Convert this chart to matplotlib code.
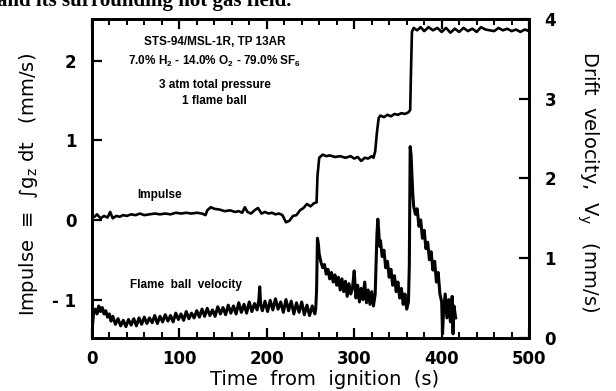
#!/usr/bin/env python3
"""Flame ball impulse and drift velocity, STS-94/MSL-1R test point 13AR."""

import matplotlib
matplotlib.use("Agg")
import matplotlib.pyplot as plt
from matplotlib.ticker import MultipleLocator

plt.rcParams['font.family'] = ['Liberation Sans', 'DejaVu Sans']
plt.rcParams['mathtext.fontset'] = 'custom'
plt.rcParams['mathtext.rm'] = 'Liberation Sans'
plt.rcParams['mathtext.it'] = 'Liberation Sans'
plt.rcParams['mathtext.bf'] = 'Liberation Sans:bold'
plt.rcParams['mathtext.default'] = 'regular'

# ============================================================================
# DATA
# ============================================================================

# Impulse = integral of g_z dt (mm/s), left axis
imp_t = [0, 3, 6, 10, 14, 18, 21, 24, 28, 32,
         36, 40, 45, 50, 55, 60, 66, 72, 78, 84,
         90, 96, 102, 108, 114, 120, 126, 130, 132, 136,
         140, 146, 152, 158, 164, 168, 172, 175, 178, 182,
         186, 190, 194, 198, 202, 206, 210, 214, 218, 222,
         226, 230, 234, 238, 242, 246, 250, 254, 257, 258,
         260, 264, 268, 272, 278, 284, 290, 296, 300, 304,
         308, 312, 316, 320, 322, 324, 326, 328, 330, 334,
         338, 342, 346, 350, 354, 358, 362, 364, 365, 366,
         368, 372, 376, 380, 385, 390, 395, 400, 405, 410,
         415, 420, 425, 430, 435, 440, 445, 450, 455, 460,
         465, 470, 475, 480, 485, 490, 495, 500]
imp_v = [0.06, 0.04, 0.07, 0.02, 0.05, 0.03, 0.10, 0.02, 0.05, 0.04,
         0.06, 0.05, 0.07, 0.06, 0.08, 0.06, 0.07, 0.08, 0.07, 0.08,
         0.07, 0.09, 0.08, 0.09, 0.08, 0.09, 0.08, 0.06, 0.12, 0.16,
         0.14, 0.13, 0.11, 0.12, 0.10, 0.11, 0.09, 0.16, 0.10, 0.08,
         0.12, 0.15, 0.08, 0.10, 0.08, 0.09, 0.07, 0.08, 0.06, -0.03,
         -0.01, 0.05, 0.06, 0.12, 0.15, 0.20, 0.17, 0.21, 0.22, 0.55,
         0.78, 0.82, 0.80, 0.81, 0.79, 0.80, 0.78, 0.80, 0.77, 0.79,
         0.74, 0.78, 0.77, 0.80, 0.78, 0.86, 1.10, 1.28, 1.31, 1.29,
         1.32, 1.30, 1.33, 1.32, 1.34, 1.33, 1.35, 1.38, 1.90, 2.36,
         2.41, 2.38, 2.42, 2.37, 2.42, 2.38, 2.41, 2.36, 2.41, 2.35,
         2.40, 2.36, 2.41, 2.37, 2.40, 2.36, 2.42, 2.39, 2.38, 2.37,
         2.41, 2.38, 2.40, 2.37, 2.39, 2.36, 2.39, 2.37]

# Flame ball drift velocity V_y (mm/s), right axis
vel_t = [0, 1, 2, 4, 6, 8, 10, 12, 14, 16,
         18, 20, 22, 24, 27, 30, 33, 36, 39, 42,
         45, 48, 51, 54, 57, 60, 63, 66, 69, 72,
         75, 78, 81, 84, 87, 90, 93, 96, 99, 102,
         105, 108, 111, 114, 117, 120, 123, 126, 129, 132,
         135, 138, 141, 144, 147, 150, 153, 156, 159, 162,
         165, 168, 171, 174, 177, 180, 183, 186, 189, 191,
         192, 193, 195, 198, 201, 204, 207, 210, 213, 216,
         219, 222, 225, 228, 231, 234, 237, 240, 243, 246,
         249, 252, 255, 256, 257, 258, 259, 260, 262, 264,
         266, 268, 270, 272, 274, 276, 278, 280, 282, 284,
         286, 288, 290, 292, 294, 296, 298, 300, 302, 304,
         306, 308, 310, 312, 314, 316, 318, 320, 322, 324,
         325, 326, 327, 328, 329, 330, 332, 334, 336, 338,
         340, 342, 344, 346, 348, 350, 352, 354, 356, 358,
         360, 362, 363, 364, 365, 366, 367, 368, 370, 372,
         374, 376, 378, 380, 382, 384, 386, 388, 390, 392,
         394, 396, 398, 400, 401, 402, 404, 406, 408, 410,
         412, 413, 414, 416]
vel_v = [0.00, 0.18, 0.30, 0.36, 0.30, 0.40, 0.33, 0.38, 0.30, 0.34,
         0.26, 0.30, 0.21, 0.27, 0.17, 0.24, 0.15, 0.22, 0.14, 0.23,
         0.16, 0.24, 0.15, 0.25, 0.17, 0.26, 0.18, 0.25, 0.19, 0.28,
         0.18, 0.27, 0.20, 0.29, 0.21, 0.28, 0.20, 0.31, 0.23, 0.30,
         0.22, 0.33, 0.24, 0.31, 0.25, 0.34, 0.26, 0.36, 0.27, 0.37,
         0.28, 0.35, 0.27, 0.39, 0.30, 0.38, 0.29, 0.41, 0.31, 0.40,
         0.30, 0.44, 0.32, 0.42, 0.31, 0.45, 0.33, 0.43, 0.35, 0.48,
         0.64, 0.42, 0.34, 0.46, 0.33, 0.47, 0.35, 0.49, 0.36, 0.45,
         0.32, 0.48, 0.34, 0.46, 0.30, 0.44, 0.32, 0.45, 0.29, 0.41,
         0.28, 0.40, 0.30, 0.36, 0.60, 1.25, 1.18, 1.05, 0.95, 0.88,
         0.92, 0.80, 0.86, 0.74, 0.82, 0.70, 0.79, 0.66, 0.76, 0.60,
         0.74, 0.58, 0.71, 0.52, 0.68, 0.55, 0.62, 0.84, 0.50, 0.66,
         0.45, 0.62, 0.48, 0.70, 0.44, 0.60, 0.42, 0.58, 0.40, 0.55,
         0.95, 1.30, 1.49, 1.35, 1.15, 1.22, 1.02, 1.10, 0.88, 0.96,
         0.76, 0.86, 0.66, 0.78, 0.58, 0.70, 0.50, 0.62, 0.42, 0.55,
         0.36, 0.45, 0.90, 2.40, 2.30, 2.05, 1.80, 1.65, 1.55, 1.62,
         1.40, 1.48, 1.25, 1.35, 1.12, 1.20, 0.98, 1.08, 0.85, 0.96,
         0.70, 0.82, 0.55, 0.45, 0.05, 0.30, 0.55, 0.25, 0.48, 0.20,
         0.52, 0.05, 0.40, 0.25]

x_ticks = [0, 100, 200, 300, 400, 500]
left_ticks = [-1, 0, 1, 2]
left_ticklabels = ['- 1', '0', '1', '2']
right_ticks = [0, 1, 2, 3, 4]

# ============================================================================
# PLOT
# ============================================================================

fig = plt.figure(figsize=(6.16, 3.91), dpi=100)
ax = fig.add_axes([0.149, 0.136, 0.710, 0.815])
ax2 = ax.twinx()

ax.plot(imp_t, imp_v, color='black', lw=1.9, solid_joinstyle='round')
ax2.plot(vel_t, vel_v, color='black', lw=2.2, solid_joinstyle='round')

ax.set_xlim(0, 500)
ax.set_ylim(-1.48, 2.52)
ax2.set_ylim(0, 4)

tick_font = dict(fontsize=12, fontweight='bold', family=['DejaVu Sans'])

ax.set_xticks(x_ticks)
ax.set_xticklabels([str(v) for v in x_ticks], **tick_font)
ax.xaxis.set_minor_locator(MultipleLocator(20))
ax.set_yticks(left_ticks)
ax.set_yticklabels(left_ticklabels, **tick_font)
ax2.set_yticks(right_ticks)
ax2.set_yticklabels([str(v) for v in right_ticks], **tick_font)

ax.tick_params(axis='x', which='major', direction='in', top=True,
               length=7, width=1.6, pad=9)
ax.tick_params(axis='x', which='minor', direction='in', top=True,
               length=4, width=1.4)
ax.tick_params(axis='y', which='major', direction='in', length=7,
               width=1.6, pad=11)
ax2.tick_params(axis='y', which='major', direction='in', length=7,
                width=1.6, pad=11)

for a in (ax, ax2):
    for sp in a.spines.values():
        sp.set_linewidth(2.0)

label_font = dict(fontsize=14, family=['DejaVu Sans'])
ax.set_xlabel('Time  from  ignition  (s)', **label_font)
ax.xaxis.set_label_coords(0.533, -0.10)
ax.set_ylabel('Impulse  \u2261  \u222bg$_z$ dt   (mm/s)', **label_font)
ax.yaxis.set_label_coords(-0.118, 0.48)
ax2.set_ylabel('Drift  velocity,  V$_y$   (mm/s)', rotation=270,
               va='center', **label_font)
ax2.yaxis.set_label_coords(1.135, 0.49)

# annotations
note = dict(fontsize=8.5, fontweight='bold', ha='center',
            transform=ax.transAxes)
ax.text(0.281, 0.918, 'STS-94/MSL-1R, TP 13AR', **note)
ax.text(0.281, 0.858, '7.0% H$_2$ - 14.0% O$_2$ - 79.0% SF$_6$', **note)
ax.text(0.281, 0.784, '3 atm total pressure', **note)
ax.text(0.281, 0.733, '1 flame ball', **note)
ax.text(52, 0.28, 'Impulse', fontsize=8.5, fontweight='bold')
ax.text(44, -0.85, 'Flame  ball  velocity', fontsize=8.5, fontweight='bold')

# the caption line of the page above, cut off by the scan
fig.text(-0.005, 0.985, 'and its surrounding hot gas field.',
         fontsize=15, fontweight='bold', family='Liberation Serif')

plt.savefig('out.png', dpi=100)
